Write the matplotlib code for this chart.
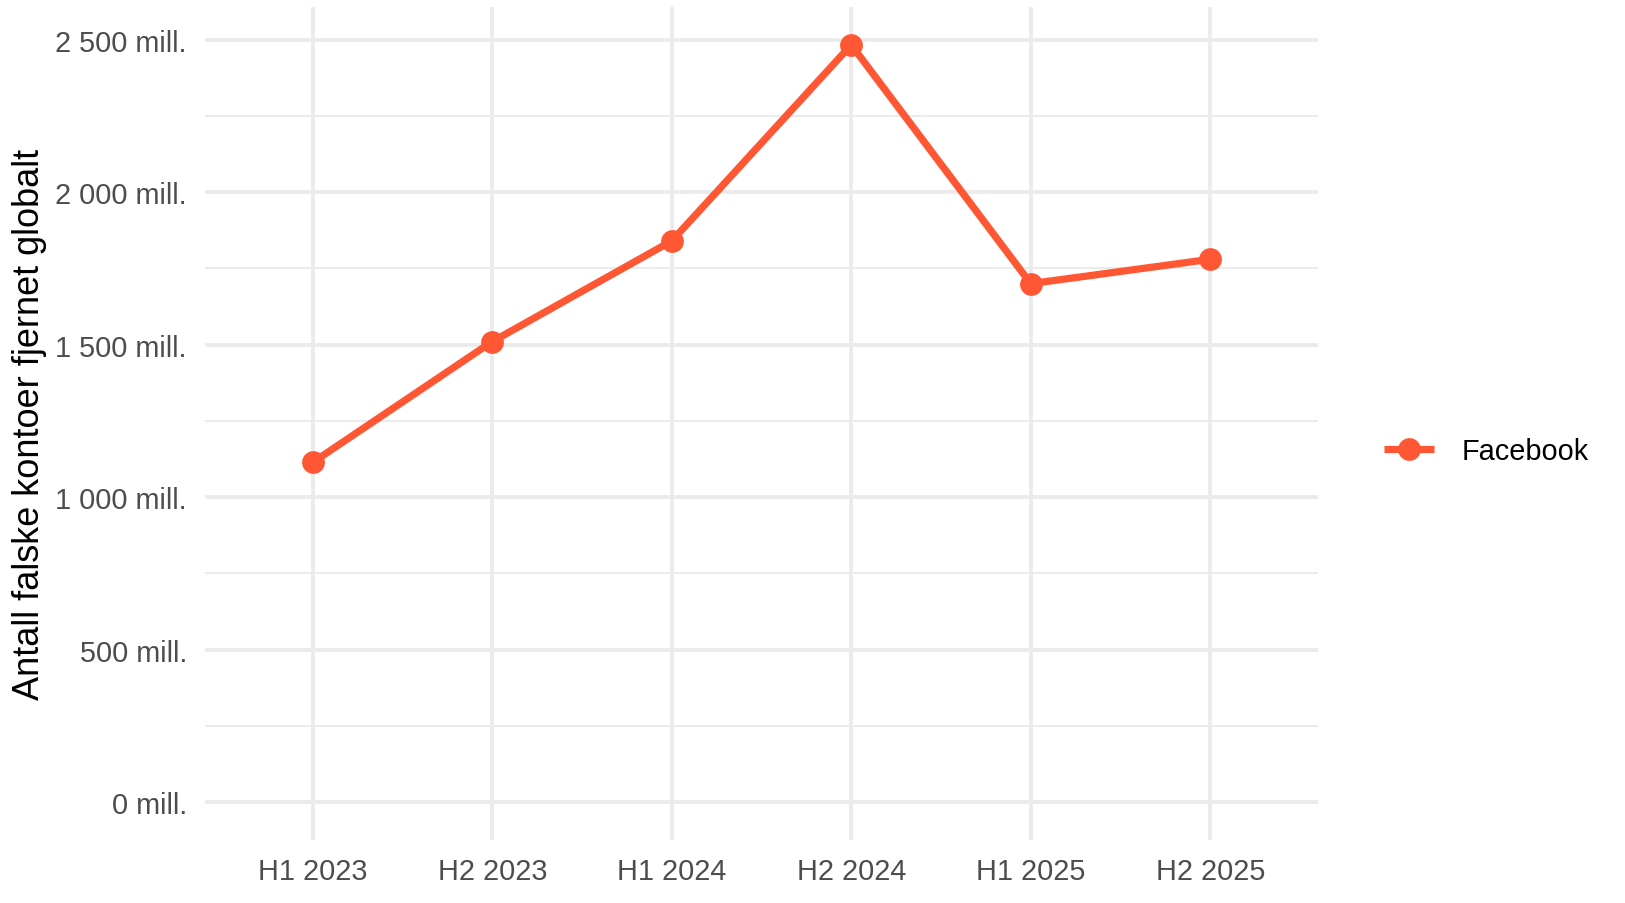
import matplotlib
matplotlib.use("Agg")
import matplotlib.pyplot as plt
from matplotlib.ticker import FixedLocator, FuncFormatter

periods = ["H1 2023", "H2 2023", "H1 2024", "H2 2024", "H1 2025", "H2 2025"]
facebook = [1114, 1510, 1840, 2483, 1700, 1780]
series_name = "Facebook"
y_major = [0, 500, 1000, 1500, 2000, 2500]
y_minor = [250, 750, 1250, 1750, 2250]

plt.rcParams["font.family"] = ["Liberation Sans", "DejaVu Sans"]

W, H, DPI = 1625, 904, 200
fig = plt.figure(figsize=(W / DPI, H / DPI), dpi=DPI)
ax = fig.add_axes([205 / W, 1 - 841 / H, (1318 - 205) / W, (841 - 8) / H])

color = "#FF5733"
x = list(range(len(periods)))
ax.plot(x, facebook, color=color, linewidth=2.6, marker="o", markersize=7.2,
        solid_capstyle="butt", label=series_name, zorder=3)

ax.set_xlim(-0.6, len(periods) - 1 + 0.6)
ymax = max(facebook)
ax.set_ylim(-0.05 * ymax, ymax * 1.05)

ax.set_xticks(x)
ax.set_xticklabels(periods)
ax.yaxis.set_major_locator(FixedLocator(y_major))
ax.yaxis.set_minor_locator(FixedLocator(y_minor))
ax.yaxis.set_major_formatter(FuncFormatter(lambda v, p: f"{int(v):,}".replace(",", " ") + " mill."))

ax.grid(True, which="major", color="#EBEBEB", linewidth=1.4, zorder=0)
ax.grid(True, which="minor", axis="y", color="#EBEBEB", linewidth=0.7, zorder=0)
ax.set_axisbelow(True)
for s in ax.spines.values():
    s.set_visible(False)

ax.tick_params(axis="both", which="both", length=0, labelsize=10.4, labelcolor="#4D4D4D")
ax.tick_params(axis="y", pad=6.5)
ax.tick_params(axis="x", pad=6.0)

ax.set_ylabel("Antall falske kontoer fjernet globalt", fontsize=13, color="black",
              va="center")
ax.yaxis.set_label_coords(-0.158, 0.5)

fig.legend(handles=ax.get_lines(), labels=[series_name], loc="center left",
           bbox_to_anchor=(1384 / W, 1 - 452 / H), frameon=False, borderpad=0,
           borderaxespad=0, handlelength=1.72, handletextpad=0.97, fontsize=10.4)

fig.savefig("out.png", dpi=DPI, facecolor="white")
